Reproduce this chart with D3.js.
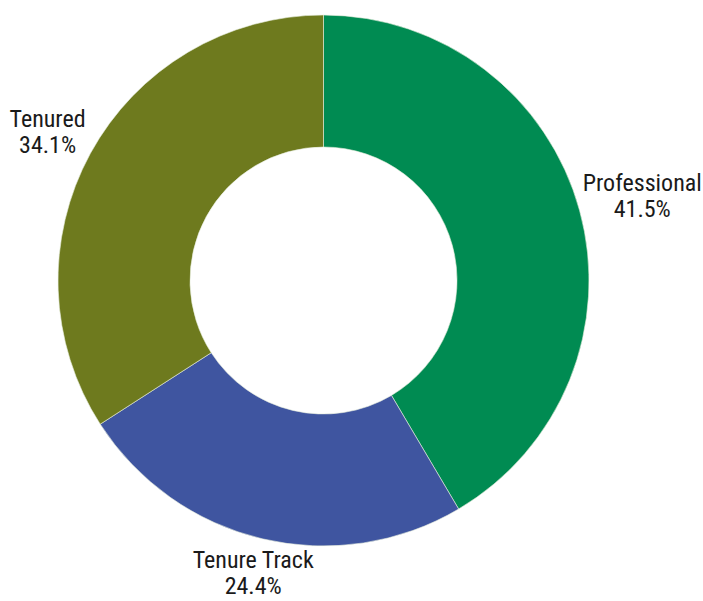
<!DOCTYPE html>
<html lang="en">
  <head>
    <meta charset="utf-8" />
    <title>Faculty Composition</title>
    <style>
     body {
       margin: 0;
       background: #fff;
     }
     .label {
       font-family: "Roboto Condensed", "Liberation Sans Narrow", "DejaVu Sans Condensed", sans-serif;
       font-size: 24px;
       fill: #1a1a1a;
     }
    </style>
  </head>
  <body>
    <div id="chart"></div>

    <script src="https://d3js.org/d3.v7.min.js"></script>
    <script>

     var categories = ["Professional", "Tenure Track", "Tenured"];
     var shares = [41.5, 24.4, 34.1];
     var colors = ["#008B52", "#3F55A0", "#6E7A1E"];

     var width = 703, height = 601;
     var cx = 323.5, cy = 280.5;
     var outer = 265.5, inner = 133.5;
     var lineGap = 26, capH = 17;

     var svg = d3.select("#chart")
                 .append("svg")
                 .attr("width", width)
                 .attr("height", height);

     var g = svg.append("g")
                .attr("transform", "translate(" + cx + "," + cy + ")");

     var pie = d3.pie().sort(null).value(function(d) { return d; });
     var slices = pie(shares);

     var arc = d3.arc().innerRadius(inner).outerRadius(outer);

     g.selectAll("path.slice")
       .data(slices)
       .enter()
       .append("path")
       .attr("class", "slice")
       .attr("d", arc)
       .attr("fill", function(d, i) { return colors[i]; })
       .attr("stroke", "#e8eedd")
       .attr("stroke-width", 0.6);

     var labels = g.selectAll("text.label")
       .data(slices)
       .enter()
       .append("text")
       .attr("class", "label")
       .attr("text-anchor", "middle");

     labels.append("tspan")
       .attr("x", 0)
       .attr("y", 0)
       .text(function(d, i) { return categories[i]; });

     labels.append("tspan")
       .attr("x", 0)
       .attr("y", lineGap)
       .text(function(d) { return d.data.toFixed(1) + "%"; });

     // push each label out along its slice's mid angle, far enough for its box
     labels.each(function(d) {
       var box = this.getBBox();
       var a = (d.startAngle + d.endAngle) / 2;
       var s = Math.sin(a), c = -Math.cos(a);
       var h = capH + lineGap;
       var reach = Math.abs(s) * box.width / 2 + Math.abs(c) * h / 2;
       var dist = 284 + 0.72 * reach;
       var tx = s * dist - (box.x + box.width / 2);
       var ty = c * dist - (lineGap - capH) / 2 + 2;
       // keep the second line (with its descent) inside the picture
       ty = Math.min(ty, height - 7 - cy - lineGap);
       d3.select(this).attr("transform", "translate(" + (tx + 1) + "," + ty + ")");
     });

    </script>
  </body>
</html>
